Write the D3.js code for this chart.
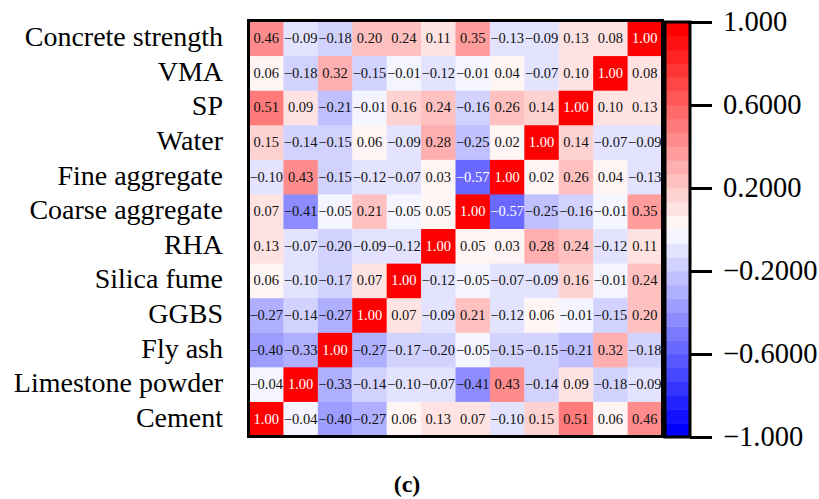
<!DOCTYPE html>
<html>
<head>
<meta charset="utf-8">
<script src="https://cdn.jsdelivr.net/npm/d3@7"></script>
<style>
  html, body { margin: 0; padding: 0; background: #fff; }
  svg { display: block; }
  text { font-family: "Liberation Serif", "Times New Roman", serif; }
</style>
</head>
<body>
<svg id="chart" width="819" height="499"></svg>
<script>
// Mix variables, in column order (left to right); rows run bottom to top.
const variables = [
  "Cement", "Limestone powder", "Fly ash", "GGBS", "Silica fume", "RHA",
  "Coarse aggregate", "Fine aggregate", "Water", "SP", "VMA", "Concrete strength"
];

// Pearson correlation matrix, row i / column j follow `variables`.
const corr = [
  [ 1.00, -0.04, -0.40, -0.27,  0.06,  0.13,  0.07, -0.10,  0.15,  0.51,  0.06,  0.46],
  [-0.04,  1.00, -0.33, -0.14, -0.10, -0.07, -0.41,  0.43, -0.14,  0.09, -0.18, -0.09],
  [-0.40, -0.33,  1.00, -0.27, -0.17, -0.20, -0.05, -0.15, -0.15, -0.21,  0.32, -0.18],
  [-0.27, -0.14, -0.27,  1.00,  0.07, -0.09,  0.21, -0.12,  0.06, -0.01, -0.15,  0.20],
  [ 0.06, -0.10, -0.17,  0.07,  1.00, -0.12, -0.05, -0.07, -0.09,  0.16, -0.01,  0.24],
  [ 0.13, -0.07, -0.20, -0.09, -0.12,  1.00,  0.05,  0.03,  0.28,  0.24, -0.12,  0.11],
  [ 0.07, -0.41, -0.05,  0.21, -0.05,  0.05,  1.00, -0.57, -0.25, -0.16, -0.01,  0.35],
  [-0.10,  0.43, -0.15, -0.12, -0.07,  0.03, -0.57,  1.00,  0.02,  0.26,  0.04, -0.13],
  [ 0.15, -0.14, -0.15,  0.06, -0.09,  0.28, -0.25,  0.02,  1.00,  0.14, -0.07, -0.09],
  [ 0.51,  0.09, -0.21, -0.01,  0.16,  0.24, -0.16,  0.26,  0.14,  1.00,  0.10,  0.13],
  [ 0.06, -0.18,  0.32, -0.15, -0.01, -0.12, -0.01,  0.04, -0.07,  0.10,  1.00,  0.08],
  [ 0.46, -0.09, -0.18,  0.20,  0.24,  0.11,  0.35, -0.13, -0.09,  0.13,  0.08,  1.00]
];

// Colour bar ticks and their printed labels.
const colorTicks = [1, 0.6, 0.2, -0.2, -0.6, -1];
const colorTickLabels = ["1.000", "0.6000", "0.2000", "\u22120.2000", "\u22120.6000", "\u22121.000"];

const captionText = "(c)";

// ---- layout ----
const map = { x0: 249, x1: 662, y0: 21, y1: 436 };
const bar = { x0: 665, x1: 690, y0: 22, y1: 437 };
const nSteps = 30;

const svg = d3.select("#chart");

const x = d3.scaleBand().domain(variables).range([map.x0, map.x1]).padding(0);
const y = d3.scaleBand().domain(variables.slice().reverse()).range([map.y0, map.y1]).padding(0);

// Stepped blue–white–red palette (15 steps on each side of zero).
const half = nSteps / 2;
const stepColors = d3.range(nSteps).map(i => {
  const k = i < half ? half - 1 - i : i - half;       // distance from zero in steps
  const t = Math.min(1, (k + 0.6) / (half - 0.4));
  return i < half ? d3.interpolateRgb("#ffffff", "#0000ff")(t)
                  : d3.interpolateRgb("#ffffff", "#ff0000")(t);
});
const color = d3.scaleQuantize().domain([-1, 1]).range(stepColors);

const fmt = d3.format(".2f");

const cells = [];
corr.forEach((row, i) => row.forEach((v, j) => cells.push({ r: variables[i], c: variables[j], v })));

const g = svg.append("g");
g.selectAll("rect.cell")
  .data(cells)
  .join("rect")
  .attr("class", "cell")
  .attr("x", d => x(d.c))
  .attr("y", d => y(d.r))
  .attr("width", x.bandwidth() + 0.5)
  .attr("height", y.bandwidth() + 0.5)
  .attr("fill", d => color(Math.min(d.v, 0.9999)));

g.selectAll("text.val")
  .data(cells)
  .join("text")
  .attr("class", "val")
  .attr("x", d => x(d.c) + x.bandwidth() / 2)
  .attr("y", d => y(d.r) + y.bandwidth() / 2)
  .attr("text-anchor", "middle")
  .attr("dominant-baseline", "central")
  .attr("font-size", 14.5)
  .attr("fill", d => Math.abs(d.v) >= 0.55 ? "#ffffff" : "#111111")
  .text(d => fmt(d.v));

// Frame around the matrix
svg.append("rect")
  .attr("x", map.x0 - 0.5).attr("y", map.y0 - 0.5)
  .attr("width", map.x1 - map.x0 + 1).attr("height", map.y1 - map.y0 + 1)
  .attr("fill", "none").attr("stroke", "#000").attr("stroke-width", 3);

// Row labels
svg.append("g")
  .selectAll("text")
  .data(variables)
  .join("text")
  .attr("x", 223)
  .attr("y", d => y(d) + y.bandwidth() / 2 - 1.5)
  .attr("text-anchor", "end")
  .attr("dominant-baseline", "central")
  .attr("font-size", 28)
  .attr("fill", "#000")
  .text(d => d);

// ---- colour bar ----
const cb = d3.scaleLinear().domain([-1, 1]).range([bar.y1, bar.y0]);
const stepVals = d3.range(nSteps).map(i => -1 + i * 2 / nSteps);
svg.append("g")
  .selectAll("rect")
  .data(stepVals)
  .join("rect")
  .attr("x", bar.x0)
  .attr("width", bar.x1 - bar.x0)
  .attr("y", d => cb(d + 2 / nSteps))
  .attr("height", d => cb(d) - cb(d + 2 / nSteps) + 0.5)
  .attr("fill", d => color(d + 1 / nSteps));

svg.append("rect")
  .attr("x", bar.x0).attr("y", bar.y0)
  .attr("width", bar.x1 - bar.x0).attr("height", bar.y1 - bar.y0)
  .attr("fill", "none").attr("stroke", "#000").attr("stroke-width", 3);

const axis = d3.axisRight(cb)
  .tickValues(colorTicks)
  .tickFormat((d, i) => colorTickLabels[i])
  .tickSize(22)
  .tickPadding(11);

const ax = svg.append("g")
  .attr("transform", `translate(${bar.x1},0)`)
  .call(axis);
ax.select(".domain").remove();
ax.selectAll(".tick line").attr("stroke", "#000").attr("stroke-width", 3);
ax.selectAll(".tick text")
  .attr("font-family", "'Liberation Serif', 'Times New Roman', serif")
  .attr("font-size", 28.5)
  .attr("dy", "0.3em")
  .attr("fill", "#000");

// Panel caption
svg.append("text")
  .attr("x", 407)
  .attr("y", 492)
  .attr("text-anchor", "middle")
  .attr("font-size", 24)
  .attr("font-weight", "bold")
  .attr("fill", "#000")
  .text(captionText);
</script>
</body>
</html>
